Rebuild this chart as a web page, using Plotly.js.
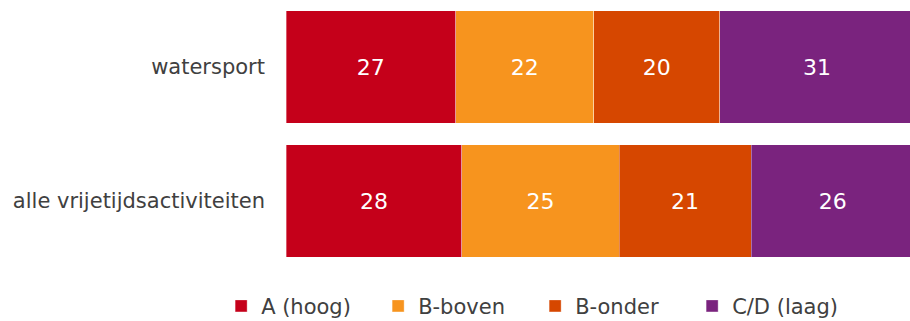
<!DOCTYPE html>
<html><head><meta charset="utf-8">
<script src="https://cdn.plot.ly/plotly-3.0.1.min.js"></script>
<style>html,body{margin:0;padding:0;background:#fff}#chart{width:910px;height:321px}</style>
</head><body><div id="chart"></div>
<script>
const categories = ["watersport", "alle vrijetijdsactiviteiten"];
const seriesNames = ["A (hoog)", "B-boven", "B-onder", "C/D (laag)"];
const valuesA = [27, 28];
const valuesBboven = [22, 25];
const valuesBonder = [20, 21];
const valuesCD = [31, 26];
const colors = ["#c5001a", "#f7941e", "#d64700", "#7a237e"];

const FONT = "DejaVu Sans, Verdana, sans-serif";
const allValues = [valuesA, valuesBboven, valuesBonder, valuesCD];
const data = allValues.map((vals, i) => ({
  type: "bar",
  orientation: "h",
  name: seriesNames[i],
  y: categories,
  x: vals,
  marker: {color: colors[i], line: {color: "rgba(255,255,255,0.35)", width: 1}},
  text: vals.map(String),
  textposition: "inside",
  insidetextanchor: "middle",
  textfont: {color: "#ffffff", size: 22, family: FONT},
  hoverinfo: "none"
}));

const layout = {
  width: 910, height: 321,
  margin: {l: 286, r: 0, t: 0, b: 53},
  barmode: "stack",
  bargap: 0.164,
  paper_bgcolor: "#ffffff",
  plot_bgcolor: "#ffffff",
  font: {family: FONT, size: 21, color: "#404040"},
  xaxis: {range: [0, 99.3], visible: false, fixedrange: true},
  yaxis: {autorange: "reversed", showgrid: false, zeroline: false, showline: false,
          ticks: "", ticklabelstandoff: 20, tickfont: {size: 21, color: "#404040"}},
  showlegend: true,
  legend: {orientation: "h", x: 0.243, xref: "container", xanchor: "left",
           y: 0.046, yref: "container", yanchor: "middle",
           font: {size: 21, color: "#404040"}, traceorder: "normal",
           itemwidth: 30, entrywidth: 112, entrywidthmode: "pixels"}
};
Plotly.newPlot("chart", data, layout, {displayModeBar: false, staticPlot: true});
</script></body></html>
